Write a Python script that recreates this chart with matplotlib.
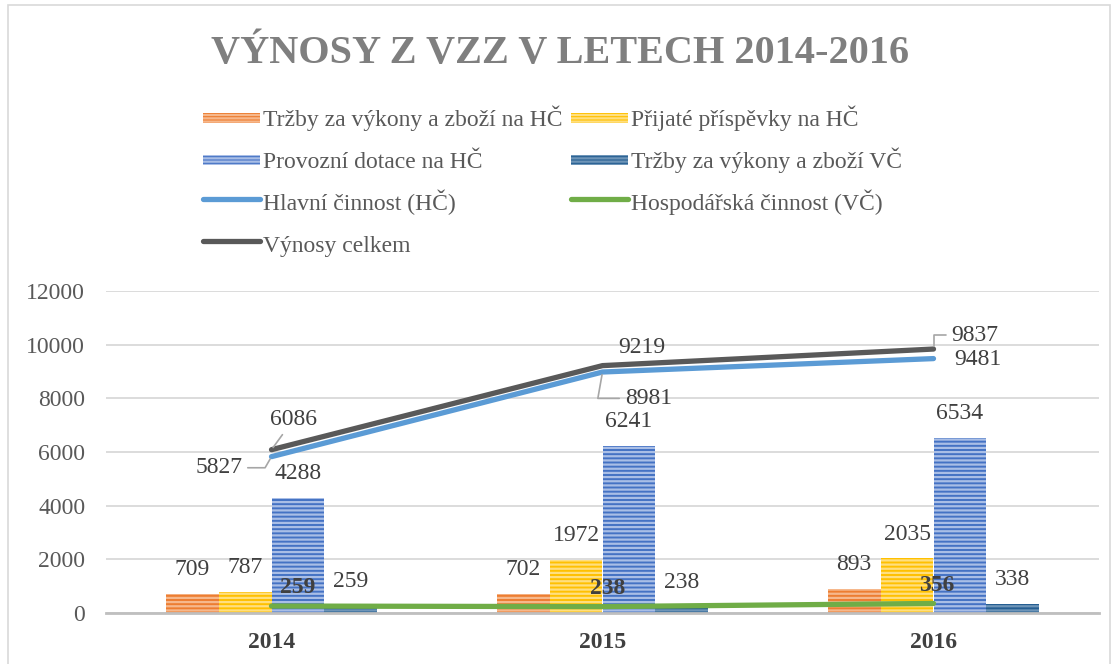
import numpy as np
import matplotlib.pyplot as plt
from matplotlib.patches import Rectangle, Patch
from matplotlib.lines import Line2D
from matplotlib.legend_handler import HandlerPatch

plt.rcParams['font.family'] = ['Liberation Serif', 'DejaVu Serif']
plt.rcParams['hatch.linewidth'] = 1.6

# data
years = ["2014", "2015", "2016"]
trzby_hc = [709, 702, 893]
prispevky_hc = [787, 1972, 2035]
dotace_hc = [4288, 6241, 6534]
trzby_vc = [259, 238, 338]
hlavni = [5827, 8981, 9481]
hospodarska = [259, 238, 356]
celkem = [6086, 9219, 9837]

bar_series = [
    ("Tržby za výkony a zboží na HČ", trzby_hc, "#ED7D31", "#F6B88C"),
    ("Přijaté příspěvky na HČ", prispevky_hc, "#FFC000", "#FFDF7F"),
    ("Provozní dotace na HČ", dotace_hc, "#4472C4", "#A9BEE6"),
    ("Tržby za výkony a zboží VČ", trzby_vc, "#255E91", "#6E95B8"),
]
line_series = [
    ("Hlavní činnost (HČ)", hlavni, "#5B9BD5"),
    ("Hospodářská činnost (VČ)", hospodarska, "#70AD47"),
    ("Výnosy celkem", celkem, "#595959"),
]

W, H = 1114, 664
fig = plt.figure(figsize=(W / 100, H / 100), dpi=100)
ax = fig.add_axes([106 / W, 1 - 613 / H, (1099 - 106) / W, (613 - 291) / H])

x = np.arange(len(years))
w = 0.16
txt = "#404040"

bar_handles = []
for i, (name, vals, col, stripe) in enumerate(bar_series):
    pos = x + (i - 1.5) * w
    ax.bar(pos, vals, w, color=col, edgecolor=stripe, linewidth=0, hatch='----', zorder=2)
    bar_handles.append(Patch(facecolor=col, edgecolor=stripe, linewidth=0, hatch='-----', label=name))
    for px, v in zip(pos, vals):
        ax.annotate(str(v), (px, v), xytext=(0, 10), textcoords='offset points',
                    ha='center', va='bottom', fontsize=17, color=txt)

line_handles = []
for name, vals, col in line_series:
    ax.plot(x, vals, color=col, lw=3.8, solid_capstyle='round', zorder=3)
    line_handles.append(Line2D([], [], color=col, lw=3.8, solid_capstyle='round', label=name))

# line labels (offsets in points)
lead = dict(arrowstyle='-', color='#a6a6a6', lw=1.2, shrinkA=2, shrinkB=2)
hl_off = [(-38, -8, 'angle,angleA=0,angleB=60,rad=0'), (33, -19, 'angle,angleA=0,angleB=80,rad=0'), (32, -1, None)]
ce_off = [(16, 22, None), (28, 13, None), (30, 10, 'angle,angleA=0,angleB=90,rad=0')]
for (dx, dy, cs), v, xi in zip(hl_off, hlavni, x):
    ap = dict(lead, connectionstyle=cs) if cs else None
    ax.annotate(str(v), (xi, v), xytext=(dx, dy), textcoords='offset points',
                ha='center', va='center', fontsize=17, color=txt, arrowprops=ap)
for (dx, dy, cs), v, xi in zip(ce_off, celkem, x):
    ap = None
    if xi != 1:
        ap = dict(lead, connectionstyle=cs) if cs else lead
    ax.annotate(str(v), (xi, v), xytext=(dx, dy), textcoords='offset points',
                ha='center', va='center', fontsize=17, color=txt, arrowprops=ap)
ho_off = [(19, 13), (4, 13), (2, 13)]
for (dx, dy), v, xi in zip(ho_off, hospodarska, x):
    ax.annotate(str(v), (xi, v), xytext=(dx, dy), textcoords='offset points',
                ha='center', va='center', fontsize=17, color=txt, fontweight='bold')

ax.set_xlim(-0.5, 2.5)
ax.set_ylim(0, 12000)
ax.set_yticks(np.arange(0, 12001, 2000))
ax.set_xticks(x)
ax.set_xticklabels(years, fontweight='bold')
ax.tick_params(axis='y', length=0, pad=15, labelsize=17, labelcolor='#595959')
ax.tick_params(axis='x', length=0, pad=14, labelsize=17, labelcolor=txt)
ax.grid(axis='y', color='#d9d9d9', lw=1.3, zorder=0)
ax.set_axisbelow(True)
for s in ['top', 'right', 'left']:
    ax.spines[s].set_visible(False)
ax.spines['bottom'].set_color('#bfbfbf')
ax.spines['bottom'].set_linewidth(2)


def thin_patch(legend, orig_handle, xdescent, ydescent, width, height, fontsize):
    # short flat block like Excel's legend key, centred in the handle box
    h = 0.42 * fontsize
    return Rectangle((-xdescent, -ydescent + (height - h) / 2), width, h)


# legend, reordered so rows read left-right
handles = [bar_handles[0], bar_handles[2], line_handles[0], line_handles[2],
           bar_handles[1], bar_handles[3], line_handles[1]]
fig.legend(handles=handles, loc='upper left', bbox_to_anchor=(203 / W, 1 - 104 / H),
           ncol=2, frameon=False, fontsize=17, labelcolor='#595959',
           handlelength=2.4, handleheight=1.5, handletextpad=0.15,
           labelspacing=0.56, columnspacing=0.35, borderpad=0, borderaxespad=0,
           handler_map={Patch: HandlerPatch(patch_func=thin_patch)})

fig.text(560 / W, 1 - 54 / H, "VÝNOSY Z VZZ V LETECH 2014-2016", ha='center', va='center',
         fontsize=29, fontweight='bold', color='#7f7f7f')

fig.patches.append(Rectangle((8 / W, -0.01), (1110 - 8) / W, 1.01 - 5 / H,
                             transform=fig.transFigure, fill=False, ec='#d9d9d9', lw=1.2))

fig.savefig("out.png", dpi=100)
